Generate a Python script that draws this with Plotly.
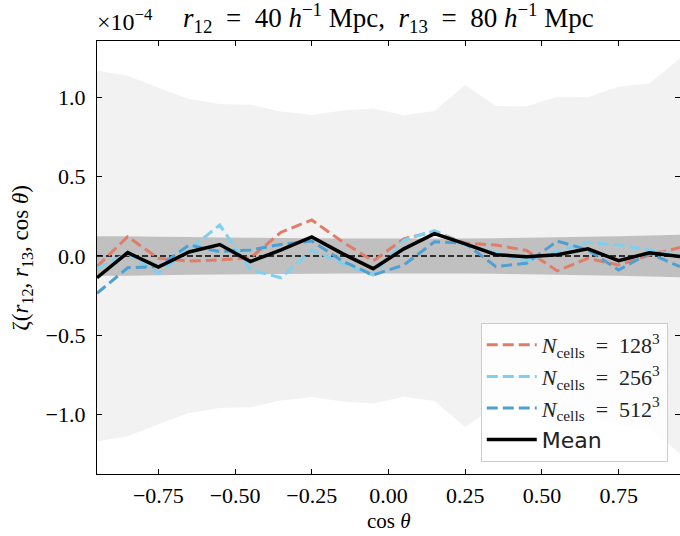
import plotly.graph_objects as go

# cos(theta) bin centres
cos_theta = [-0.95, -0.85, -0.75, -0.65, -0.55, -0.45, -0.35, -0.25, -0.15, -0.05,
             0.05, 0.15, 0.25, 0.35, 0.45, 0.55, 0.65, 0.75, 0.85, 0.95]

# zeta values in units of 1e-4
zeta_128 = [-0.067, 0.122, -0.015, -0.032, -0.025, -0.012, 0.150, 0.227, 0.090, -0.032,
            0.108, 0.155, 0.080, 0.069, 0.035, -0.094, -0.015, -0.057, 0.006, 0.053]
zeta_256 = [-0.078, 0.015, -0.109, 0.040, 0.195, -0.088, -0.137, 0.038, -0.046, -0.120,
            0.100, 0.160, 0.069, 0.020, -0.030, 0.030, 0.086, 0.069, 0.038, 0.000]
zeta_512 = [-0.235, -0.074, -0.067, 0.069, 0.028, 0.038, 0.073, 0.094, -0.032, -0.120,
            -0.057, 0.090, 0.080, -0.067, -0.046, 0.094, 0.038, -0.088, 0.017, -0.067]
zeta_mean = [-0.137, 0.021, -0.070, 0.025, 0.072, -0.035, 0.038, 0.120, 0.015, -0.080,
             0.045, 0.141, 0.076, 0.008, -0.004, 0.008, 0.045, -0.030, 0.020, -0.004]

# scatter envelopes (half widths, units of 1e-4)
sigma_outer = [1.168, 1.136, 1.061, 0.990, 0.958, 0.953, 0.910, 0.889, 0.917, 0.929,
               0.887, 0.914, 1.077, 0.945, 0.943, 1.004, 1.001, 1.068, 1.087, 1.245]
sigma_inner = [0.125, 0.124, 0.121, 0.119, 0.117, 0.115, 0.114, 0.112, 0.111, 0.110,
               0.110, 0.110, 0.111, 0.112, 0.115, 0.118, 0.121, 0.125, 0.129, 0.134]

x_ticks = [-0.75, -0.5, -0.25, 0.0, 0.25, 0.5, 0.75]
x_ticktext = ["\u22120.75", "\u22120.50", "\u22120.25", "0.00", "0.25", "0.50", "0.75"]
y_ticks = [-1.0, -0.5, 0.0, 0.5, 1.0]
y_ticktext = ["\u22121.0", "\u22120.5", "0.0", "0.5", "1.0"]

SERIF = "Liberation Serif"
NB = "\u00a0"
EN = "\u2002"

fig = go.Figure()

def band(sig, color):
    xs = cos_theta + cos_theta[::-1]
    ys = [s for s in sig] + [-s for s in sig[::-1]]
    return go.Scatter(x=xs, y=ys, fill="toself", fillcolor=color, mode="none",
                      showlegend=False, hoverinfo="skip")

fig.add_trace(band(sigma_outer, "#f2f2f2"))
fig.add_trace(band(sigma_inner, "#c0c0c0"))

fig.add_trace(go.Scatter(x=[cos_theta[0], cos_theta[-1]], y=[0, 0], mode="lines",
                         line=dict(color="black", width=1.7, dash="6px,3px"),
                         showlegend=False, hoverinfo="skip"))

series = [
    (zeta_128, "#e07c68", f"<i>N</i><sub>cells</sub>{EN}={EN}128<sup>3</sup>"),
    (zeta_256, "#7fd0f0", f"<i>N</i><sub>cells</sub>{EN}={EN}256<sup>3</sup>"),
    (zeta_512, "#4fa0d2", f"<i>N</i><sub>cells</sub>{EN}={EN}512<sup>3</sup>"),
]
for vals, col, name in series:
    fig.add_trace(go.Scatter(x=cos_theta, y=vals, mode="lines", name=name,
                             line=dict(color=col, width=3, dash="11px,5px")))

fig.add_trace(go.Scatter(x=cos_theta, y=zeta_mean, mode="lines",
                         name="<span style='font-family:DejaVu Sans'>Mean</span>",
                         line=dict(color="black", width=3.5)))

axis_common = dict(showline=True, linecolor="black", linewidth=1.2, mirror="ticks",
                   ticks="inside", ticklen=5, tickwidth=1, tickcolor="black",
                   showgrid=False, zeroline=False,
                   tickfont=dict(family=SERIF, size=22, color="black"))

fig.update_xaxes(range=[-0.95, 0.95], tickvals=x_ticks, ticktext=x_ticktext,
                 ticklabelstandoff=1, **axis_common)
fig.update_yaxes(range=[-1.374, 1.355], tickvals=y_ticks, ticktext=y_ticktext,
                 ticklabelstandoff=6, **axis_common)

title_txt = (f"<i>r</i><sub>12</sub>{NB}{NB}={NB}{NB}40{NB}<i>h</i><sup>\u22121</sup>{NB}Mpc,{NB}{NB}"
             f"<i>r</i><sub>13</sub>{NB}{NB}={NB}{NB}80{NB}<i>h</i><sup>\u22121</sup>{NB}Mpc")

fig.update_layout(
    width=680, height=536, autosize=False,
    margin=dict(l=97, r=0, t=41, b=62),
    plot_bgcolor="white", paper_bgcolor="white",
    font=dict(family=SERIF, color="black"),
    legend=dict(x=0.979, y=0.0277, xanchor="right", yanchor="bottom",
                bgcolor="rgba(255,255,255,0.8)", bordercolor="#cccccc", borderwidth=1,
                itemwidth=50,
                font=dict(family=SERIF, size=22, color="#222")),
    annotations=[
        dict(text=title_txt,
             xref="paper", yref="paper", x=0.5, y=1.0, yshift=23, xanchor="center", yanchor="middle",
             showarrow=False, font=dict(family=SERIF, size=27, color="black")),
        dict(text="\u00d710<sup>\u22124</sup>", xref="paper", yref="paper", x=0.0, y=1.0, yshift=21,
             xanchor="left", yanchor="middle", showarrow=False, xshift=-2,
             font=dict(family=SERIF, size=24, color="black")),
        dict(text="cos <i>\u03b8</i>", xref="paper", yref="paper", x=0.5, y=-0.108,
             xanchor="center", yanchor="middle", showarrow=False,
             font=dict(family=SERIF, size=21, color="black")),
        dict(text="\u03b6(<i>r</i><sub>12</sub>, <i>r</i><sub>13</sub>, cos <i>\u03b8</i>)",
             xref="paper", yref="paper", x=-0.13, y=0.5, textangle=-90,
             xanchor="center", yanchor="middle", showarrow=False,
             font=dict(family=SERIF, size=23, color="black")),
    ],
)

fig.write_html("out.html")
